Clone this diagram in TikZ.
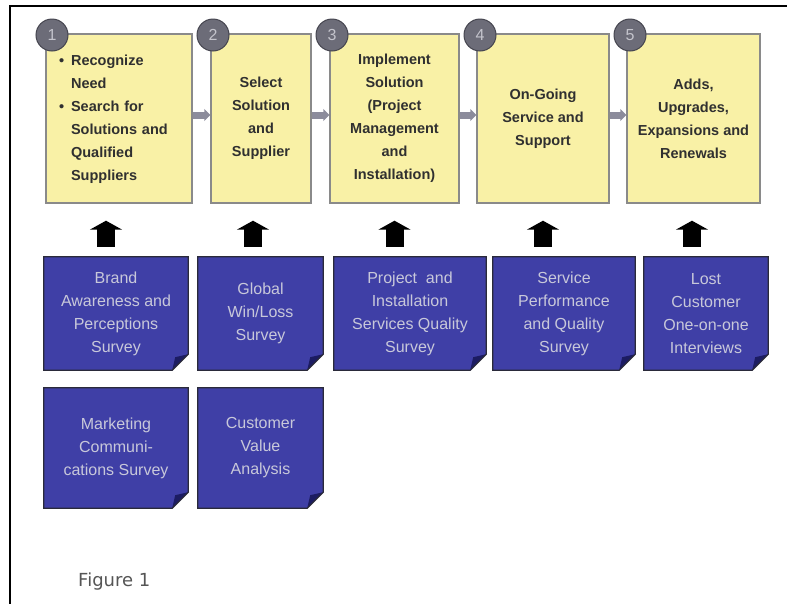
\documentclass[tikz,border=0pt]{standalone}
\usepackage{fontspec}
\setmainfont{Liberation Sans}
\newfontfamily\figfont{DejaVu Sans}
\usetikzlibrary{arrows.meta,calc}

\pgfdeclarelayer{sheetlayer}
\pgfsetlayers{sheetlayer,main}

\definecolor{stepfill}{HTML}{F9F1A6}
\definecolor{stepedge}{HTML}{8A8A8A}
\definecolor{steptext}{HTML}{303030}
\definecolor{badgefill}{HTML}{6C6C78}
\definecolor{badgeedge}{HTML}{45454F}
\definecolor{badgetext}{HTML}{C4C4CC}
\definecolor{sheetfill}{HTML}{3F3FA6}
\definecolor{sheetedge}{HTML}{2A2A3A}
\definecolor{sheetfold}{HTML}{1C1C62}
\definecolor{sheettext}{HTML}{C8C8DA}
\definecolor{flowgray}{HTML}{8C8C9C}
\definecolor{captiongray}{HTML}{555555}

\tikzset{
  stepbox/.style={draw=stepedge, line width=1.4pt, fill=stepfill, align=center,
    text=steptext, font=\fontsize{14.5}{23}\selectfont\bfseries, inner sep=0pt},
  badge/.style={circle, fill=badgefill, draw=badgeedge, line width=1pt,
    minimum size=32pt, inner sep=0pt, text=badgetext, font=\fontsize{16}{16}\selectfont},
  sheet/.style={align=center, text=sheettext, font=\fontsize{16}{23}\selectfont, inner sep=0pt},
  flow/.style={draw=flowgray, line width=7pt, -{Triangle[length=6pt,width=12pt]}},
  feed/.style={draw=black, line width=18pt, -{Triangle[length=9pt,width=32pt]},
    shorten <=10pt, shorten >=17pt},
}

% blue survey sheet with a folded bottom-right corner
\newcommand\surveysheet[1]{%
  \fill[sheetfill] (#1.north west) -- (#1.north east) -- ([yshift=16pt]#1.south east)
    -- ([xshift=-16pt]#1.south east) -- (#1.south west) -- cycle;
  \fill[sheetfold] ([yshift=16pt]#1.south east) -- ([xshift=-16pt]#1.south east)
    -- ([xshift=-13pt,yshift=13pt]#1.south east) -- cycle;
  \draw[sheetedge, line width=1.2pt] (#1.north west) -- (#1.north east)
    -- ([yshift=16pt]#1.south east) -- ([xshift=-16pt]#1.south east)
    -- (#1.south west) -- cycle;
}

\begin{document}
\begin{tikzpicture}[x=1pt, y=-1pt]
\useasboundingbox (0,0) rectangle (787,603);

% outer frame
\draw[line width=2pt] (10,610) -- (10,6) -- (790,6);

% process steps
\node[stepbox, minimum width=146pt, minimum height=169pt, text width=140pt, align=left] (y1) at (119,118.5)
  {\begin{tabular}{@{\hspace{10pt}}l@{\hspace{7pt}}l@{}}
   \textbullet & Recognize\\
               & Need\\
   \textbullet & Search for\\
               & Solutions and\\
               & Qualified\\
               & Suppliers
   \end{tabular}};
\node[stepbox, minimum width=100pt, minimum height=169pt] (y2) at (261,118.5)
  {Select\\Solution\\and\\Supplier};
\node[stepbox, minimum width=129pt, minimum height=169pt] (y3) at (394.5,118.5)
  {Implement\\Solution\\(Project\\Management\\and\\Installation)};
\node[stepbox, minimum width=132pt, minimum height=169pt] (y4) at (543,118.5)
  {On-Going\\Service and\\Support};
\node[stepbox, minimum width=133pt, minimum height=169pt] (y5) at (693.5,118.5)
  {Adds,\\Upgrades,\\Expansions and\\Renewals};

% step numbers
\node[badge] (n1) at (52,35) {1};
\node[badge] (n2) at (213,35) {2};
\node[badge] (n3) at (332,35) {3};
\node[badge] (n4) at (480,35) {4};
\node[badge] (n5) at (630,35) {5};

% flow between steps
\draw[flow] ([yshift=3.5pt]y1.east) -- ([yshift=3.5pt]y2.west);
\draw[flow] ([yshift=3.5pt]y2.east) -- ([yshift=3.5pt]y3.west);
\draw[flow] ([yshift=3.5pt]y3.east) -- ([yshift=3.5pt]y4.west);
\draw[flow] ([yshift=3.5pt]y4.east) -- ([yshift=3.5pt]y5.west);

% survey sheets (texts here, sheet shapes on the layer below)
\node[sheet, minimum width=144pt, minimum height=113pt] (b1) at (116,313.5)
  {Brand\\Awareness and\\Perceptions\\Survey};
\node[sheet, minimum width=125pt, minimum height=113pt] (b2) at (260.5,313.5)
  {Global\\Win/Loss\\Survey};
\node[sheet, minimum width=152pt, minimum height=113pt] (b3) at (410,313.5)
  {Project~~and\\Installation\\Services Quality\\Survey};
\node[sheet, minimum width=142pt, minimum height=113pt] (b4) at (564,313.5)
  {Service\\Performance\\and Quality\\Survey};
\node[sheet, minimum width=124pt, minimum height=113pt] (b5) at (706,313.5)
  {Lost\\Customer\\One-on-one\\Interviews};
\node[sheet, minimum width=144pt, minimum height=120pt] (b6) at (116,448)
  {Marketing\\Communi-\\cations Survey};
\node[sheet, minimum width=125pt, minimum height=120pt] (b7) at (260.5,448)
  {Customer\\Value\\Analysis};

\begin{pgfonlayer}{sheetlayer}
  \foreach \s in {b1,b2,b3,b4,b5,b6,b7} {\surveysheet{\s}}
\end{pgfonlayer}

% feedback arrows from surveys to steps
\coordinate (t1) at ([xshift=-13pt]y1.south);
\coordinate (t2) at ([xshift=-8pt]y2.south);
\coordinate (t3) at (y3.south);
\coordinate (t4) at (y4.south);
\coordinate (t5) at ([xshift=-1.5pt]y5.south);
\draw[feed] (t1 |- b1.north) -- (t1);
\draw[feed] (t2 |- b2.north) -- (t2);
\draw[feed] (t3 |- b3.north) -- (t3);
\draw[feed] (t4 |- b4.north) -- (t4);
\draw[feed] (t5 |- b5.north) -- (t5);

% caption
\node[anchor=base west, inner sep=0pt, text=captiongray, font=\figfont\fontsize{18}{18}\selectfont] (cap) at (78,586) {Figure 1};
\end{tikzpicture}
\end{document}
